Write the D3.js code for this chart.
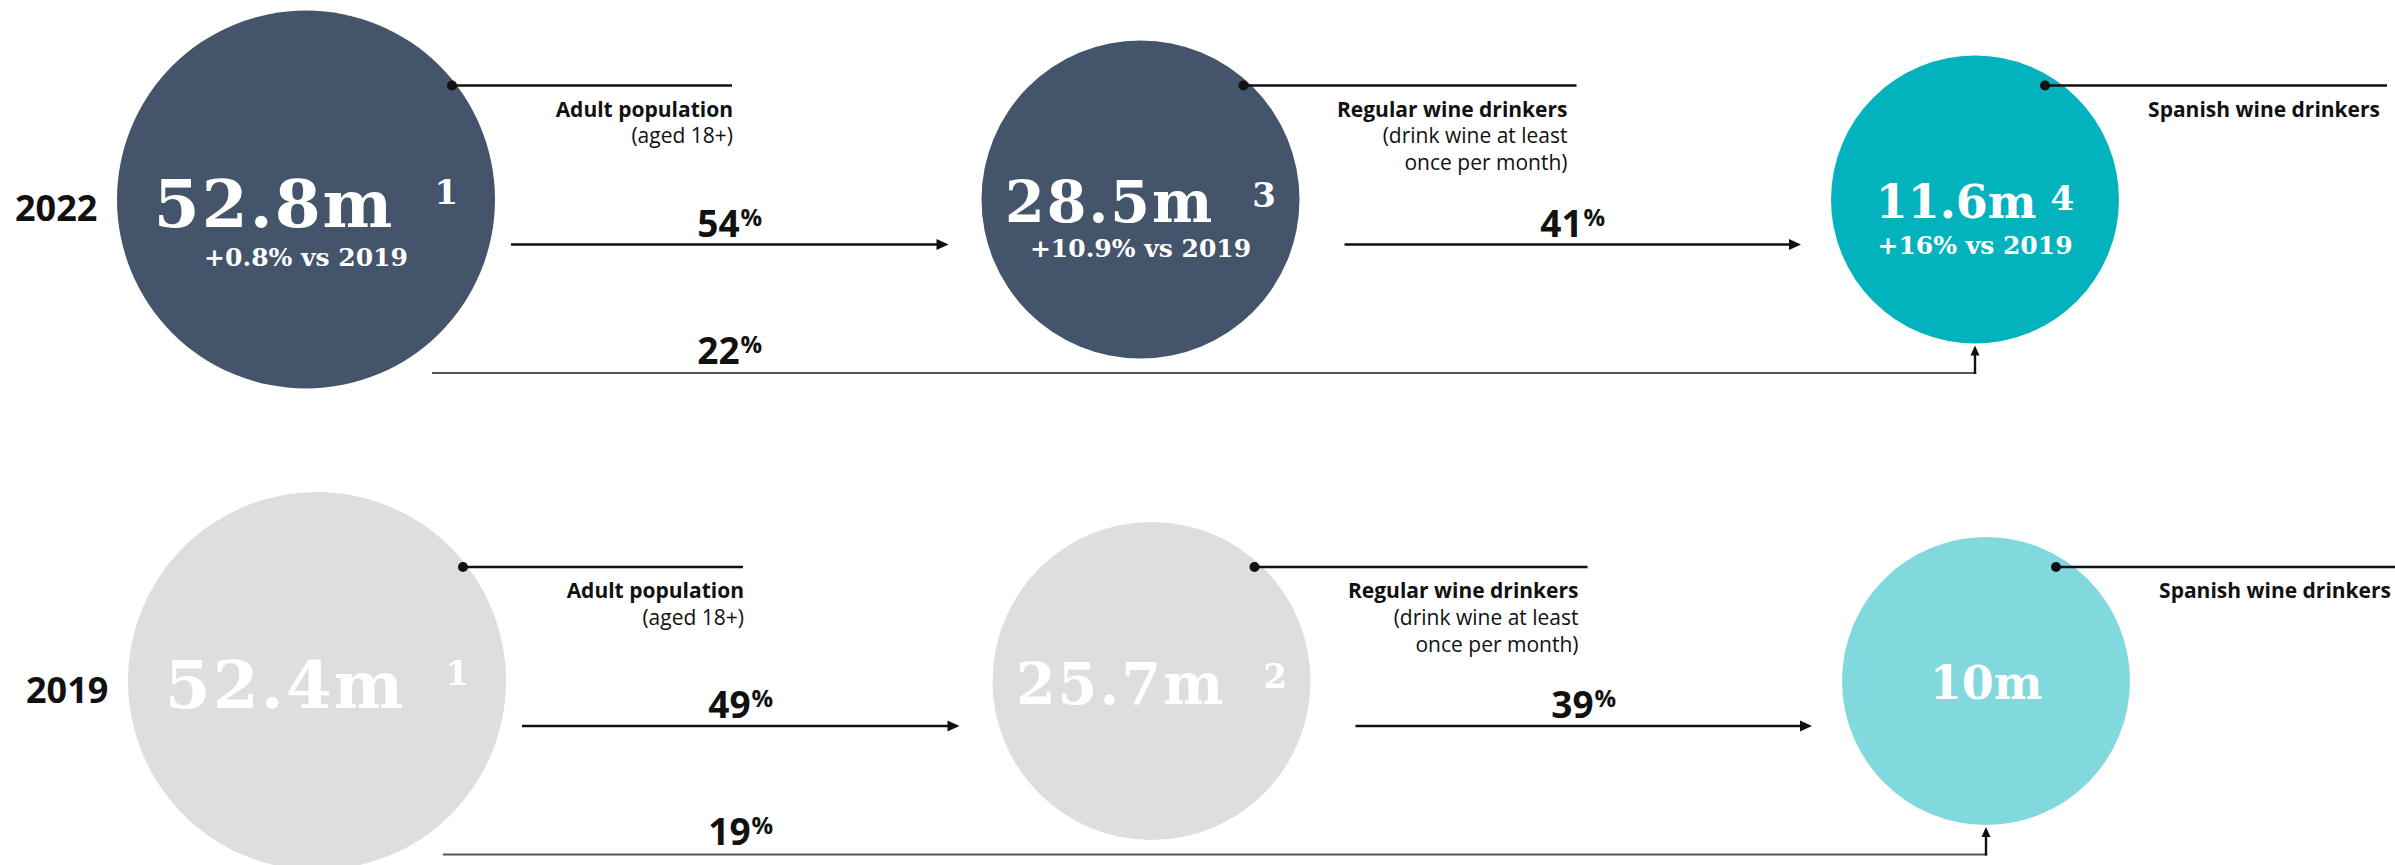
<!DOCTYPE html>
<html>
<head>
<meta charset="utf-8">
<script src="https://cdn.jsdelivr.net/npm/d3@7"></script>
<style>
  html, body { margin: 0; padding: 0; background: #fff; }
  svg { display: block; }
</style>
</head>
<body>
<svg id="chart" width="2395" height="865"></svg>
<script>
// ---- data ----
const years = ["2022", "2019"];
const stages = ["Adult population", "Regular wine drinkers", "Spanish wine drinkers"];
const stageNotes = [["(aged 18+)"], ["(drink wine at least", "once per month)"], []];
const values2022 = [52.8, 28.5, 11.6];          // millions
const values2019 = [52.4, 25.7, 10];            // millions
const change2022vs2019 = ["+0.8%", "+10.9%", "+16%"];
const footnotes2022 = ["1", "3", "4"];
const footnotes2019 = ["1", "2", ""];
const stepShare2022 = [54, 41];                 // % moving to the next stage
const stepShare2019 = [49, 39];
const directShare2022 = 22;                     // % of adults who drink Spanish wine
const directShare2019 = 19;

const rows = [
  { year: years[0], values: values2022, notes: footnotes2022, change: change2022vs2019,
    steps: stepShare2022, direct: directShare2022,
    fills: ["#44546A", "#44546A", "#02B3BE"] },
  { year: years[1], values: values2019, notes: footnotes2019, change: null,
    steps: stepShare2019, direct: directShare2019,
    fills: ["#DEDEDE", "#DEDEDE", "#81D9DE"] }
];

// ---- layout ----
const svg = d3.select("#chart");
const x = d3.scalePoint().domain(stages).range([306, 1975]);
const y = d3.scalePoint().domain(years).range([199.5, 681]);
const rowShift = d3.scaleOrdinal().domain(years).range([0, 11]);
const radius = d3.scaleOrdinal().domain(stages).range([189, 159, 144]);

const valueFont = [66, 57, 46];
const valueSpacing = [2, 2, 0];
const valueBase = [27, 22.5, 18];
const supGap = [40, 38, 14];
const supBase = [4, 7, 10];
const changeBase = [66, 57.5, 54.5];
const dotDx = [146, 103, 70];
const labelDx = [427, 427, 405];
const lineEndDx = [426, 436, 412];

const serif = "'DejaVu Serif', serif";
const sans = "'Open Sans', 'Noto Sans', sans-serif";
const ink = "#111";

function arrowRight(g, x1, x2, yy) {
  g.append("line").attr("x1", x1).attr("x2", x2 - 11).attr("y1", yy).attr("y2", yy)
    .attr("stroke", ink).attr("stroke-width", 2.4);
  g.append("path")
    .attr("d", d3.line()([[x2 - 12, yy - 5.5], [x2, yy], [x2 - 12, yy + 5.5]]) + "Z")
    .attr("fill", ink);
}

function pctLabel(g, cx, baseline, v) {
  const t = g.append("text").attr("x", cx).attr("y", baseline)
    .attr("text-anchor", "middle").attr("font-family", sans)
    .attr("font-weight", 700).attr("fill", ink);
  t.append("tspan").attr("font-size", 37).text(v);
  t.append("tspan").attr("font-size", 24).attr("dy", -11).attr("dx", 1).text("%");
}

rows.forEach(row => {
  const cy = y(row.year);
  const sx = s => x(s) + rowShift(row.year);
  const g = svg.append("g").attr("class", "row-" + row.year);

  // year label
  g.append("text")
    .attr("x", sx(stages[0]) - 291).attr("y", cy + 21.5)
    .attr("font-family", sans).attr("font-weight", 700).attr("font-size", 36)
    .attr("fill", ink).text(row.year);

  // stage circles
  g.selectAll("circle.stage").data(stages).join("circle")
    .attr("class", "stage")
    .attr("cx", d => sx(d)).attr("cy", cy).attr("r", d => radius(d))
    .attr("fill", (d, i) => row.fills[i]);

  // values inside circles
  stages.forEach((s, i) => {
    const t = g.append("text")
      .attr("x", sx(s)).attr("y", cy + valueBase[i])
      .attr("text-anchor", "middle").attr("font-family", serif)
      .attr("font-weight", 700).attr("fill", "#fff");
    t.append("tspan").attr("font-size", valueFont[i])
      .style("letter-spacing", valueSpacing[i] + "px")
      .text(row.values[i] + "m");
    if (row.notes[i]) {
      t.append("tspan").attr("font-size", 34)
        .attr("dx", supGap[i]).attr("dy", supBase[i] - valueBase[i])
        .text(row.notes[i]);
    }
    if (row.change) {
      g.append("text")
        .attr("x", sx(s)).attr("y", cy + changeBase[i])
        .attr("text-anchor", "middle").attr("font-family", serif)
        .attr("font-weight", 700).attr("font-size", 25).attr("fill", "#fff")
        .text(row.change[i] + " vs 2019");
    }
  });

  // callouts with stage names
  stages.forEach((s, i) => {
    const ly = cy - 114;
    g.append("line")
      .attr("x1", sx(s) + dotDx[i]).attr("x2", sx(s) + lineEndDx[i])
      .attr("y1", ly).attr("y2", ly)
      .attr("stroke", ink).attr("stroke-width", 2.6);
    g.append("circle").attr("cx", sx(s) + dotDx[i]).attr("cy", ly).attr("r", 5).attr("fill", ink);
    const t = g.append("text")
      .attr("x", sx(s) + labelDx[i]).attr("y", ly + 31)
      .attr("text-anchor", "end").attr("font-family", sans)
      .attr("font-size", 21).attr("fill", ink);
    t.append("tspan").attr("font-weight", 700).text(s);
    stageNotes[i].forEach((line, k) => {
      t.append("tspan").attr("x", sx(s) + labelDx[i])
        .attr("dy", k === 0 ? 26.5 : 27).attr("font-weight", 400).text(line);
    });
  });

  // step arrows between stages
  const ay = cy + 45;
  const a1 = [sx(stages[0]) + radius(stages[0]) + 16, sx(stages[1]) - radius(stages[1]) - 33];
  const a2 = [sx(stages[1]) + radius(stages[1]) + 45, sx(stages[2]) - radius(stages[2]) - 30];
  arrowRight(g, a1[0], a1[1], ay);
  arrowRight(g, a2[0], a2[1], ay);
  pctLabel(g, (a1[0] + a1[1]) / 2, ay - 8, row.steps[0]);
  pctLabel(g, (a2[0] + a2[1]) / 2, ay - 8, row.steps[1]);

  // direct share: adults straight to Spanish wine drinkers
  const by = cy + 173.5;
  const cxC = sx(stages[2]);
  const tipY = cy + radius(stages[2]) + 2;
  g.append("line")
    .attr("x1", sx(stages[0]) + 126).attr("x2", cxC + 1.2)
    .attr("y1", by).attr("y2", by)
    .attr("stroke", "#555").attr("stroke-width", 2.2);
  g.append("line")
    .attr("x1", cxC).attr("x2", cxC).attr("y1", by + 1).attr("y2", tipY + 9)
    .attr("stroke", ink).attr("stroke-width", 2.4);
  g.append("path")
    .attr("d", d3.line()([[cxC - 4.5, tipY + 10], [cxC, tipY], [cxC + 4.5, tipY + 10]]) + "Z")
    .attr("fill", ink);
  pctLabel(g, (a1[0] + a1[1]) / 2, by - 9.5, row.direct);
});
</script>
</body>
</html>
